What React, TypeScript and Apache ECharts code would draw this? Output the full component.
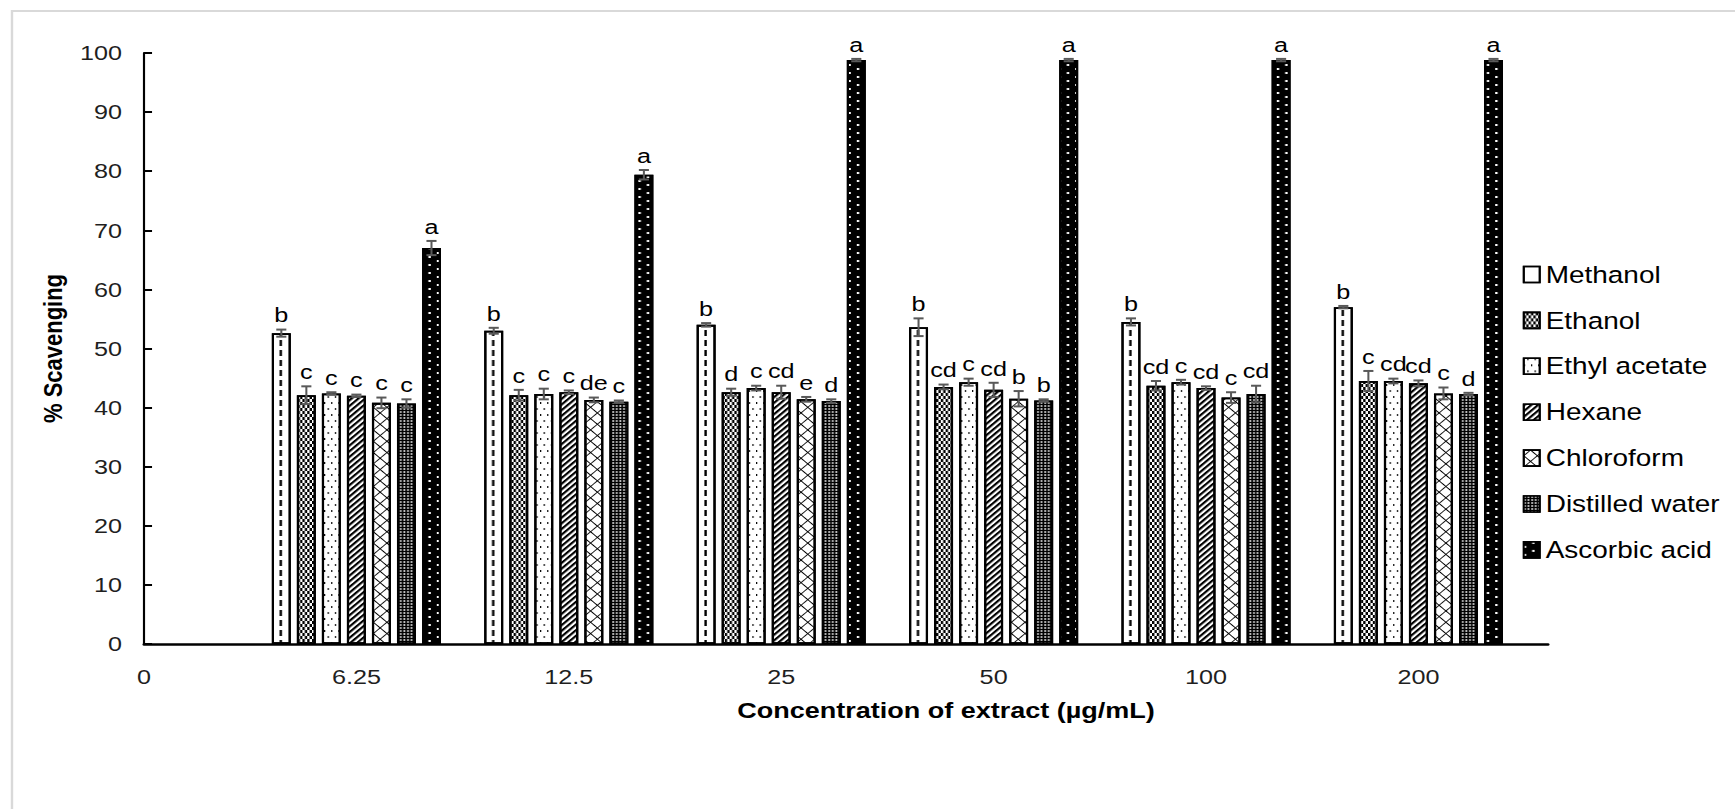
import React, { useEffect, useRef } from 'react';
import * as echarts from 'echarts';

const categories = ['0', '6.25', '12.5', '25', '50', '100', '200'];
const groupPositions = [1, 2, 3, 4, 5, 6];
const seriesNames = ['Methanol', 'Ethanol', 'Ethyl acetate', 'Hexane', 'Chloroform', 'Distilled water', 'Ascorbic acid'];

const methanol = [52.6, 53.0, 54.0, 53.6, 54.5, 57.0];
const ethanol = [42.1, 42.1, 42.6, 43.5, 43.7, 44.5];
const ethylAcetate = [42.4, 42.3, 43.3, 44.3, 44.3, 44.5];
const hexane = [42.0, 42.6, 42.6, 43.0, 43.3, 44.1];
const chloroform = [40.8, 41.3, 41.4, 41.5, 41.7, 42.4];
const distilledWater = [40.7, 41.0, 41.1, 41.2, 42.3, 42.3];
const ascorbicAcid = [67.0, 79.4, 98.8, 98.8, 98.8, 98.8];

const methanolErr = [0.6, 0.5, 0.3, 1.5, 0.6, 0.2];
const ethanolErr = [1.5, 0.9, 0.6, 0.4, 0.8, 1.7];
const ethylAcetateErr = [0.2, 0.9, 0.4, 0.6, 0.4, 0.4];
const hexaneErr = [0.2, 0.3, 1.1, 1.2, 0.3, 0.5];
const chloroformErr = [0.9, 0.4, 0.4, 1.3, 0.9, 1.0];
const distilledWaterErr = [0.7, 0.2, 0.3, 0.2, 1.4, 0.2];
const ascorbicAcidErr = [1.2, 0.8, 0.2, 0.2, 0.2, 0.2];

const methanolLetters = ['b', 'b', 'b', 'b', 'b', 'b'];
const ethanolLetters = ['c', 'c', 'd', 'cd', 'cd', 'c'];
const ethylAcetateLetters = ['c', 'c', 'c', 'c', 'c', 'cd'];
const hexaneLetters = ['c', 'c', 'cd', 'cd', 'cd', 'cd'];
const chloroformLetters = ['c', 'de', 'e', 'b', 'c', 'c'];
const distilledWaterLetters = ['c', 'c', 'd', 'b', 'cd', 'd'];
const ascorbicAcidLetters = ['a', 'a', 'a', 'a', 'a', 'a'];

const values = [methanol, ethanol, ethylAcetate, hexane, chloroform, distilledWater, ascorbicAcid];
const errors = [methanolErr, ethanolErr, ethylAcetateErr, hexaneErr, chloroformErr, distilledWaterErr, ascorbicAcidErr];
const letters = [methanolLetters, ethanolLetters, ethylAcetateLetters, hexaneLetters, chloroformLetters, distilledWaterLetters, ascorbicAcidLetters];

const FONT = '"Liberation Sans", Arial, sans-serif';
// the original picture is stretched horizontally; reproduce with a horizontal scale
const SX = 1.2;
const CHART_W = 1446;
const CHART_H = 809;
const BAR_W = 15.8;
const BAR_GAP = 0.32;
const PITCH = BAR_W * (1 + BAR_GAP);

const fills = ['#ffffff', '#ffffff', '#ffffff', '#ffffff', '#ffffff', '#000000', '#000000'];
const decals: any[] = [
  { symbol: 'rect', symbolSize: 1, symbolKeepAspect: false, color: '#000', dashArrayX: [0, 56, 2, 119], dashArrayY: [6, 4] },
  { symbol: 'rect', symbolSize: 1, symbolKeepAspect: false, color: '#000', dashArrayX: [[2, 2], [0, 2, 2, 0]], dashArrayY: [3, 0] },
  { symbol: 'rect', symbolSize: 1, symbolKeepAspect: false, color: '#000', dashArrayX: [[1, 5], [0, 3, 1, 2]], dashArrayY: [2, 4] },
  { symbol: 'rect', symbolSize: 1, symbolKeepAspect: false, color: '#000', dashArrayX: [1, 0], dashArrayY: [2, 2], rotation: -Math.PI / 4 },
  { symbol: 'path://M3.6,0H4.4V8H3.6Z M0,3.6H8V4.4H0Z', symbolSize: 1, symbolKeepAspect: false, color: '#000', dashArrayX: [8, 0], dashArrayY: [8, 0], rotation: Math.PI / 4 },
  { symbol: 'rect', symbolSize: 0.75, symbolKeepAspect: false, color: '#fff', dashArrayX: [2, 1], dashArrayY: [2, 1] },
  { symbol: 'rect', symbolSize: 1, symbolKeepAspect: false, color: '#fff', dashArrayX: [[2, 12], [0, 7, 2, 5]], dashArrayY: [2, 2] },
];

export default function App() {
  const ref = useRef<HTMLDivElement>(null);
  useEffect(() => {
    if (!ref.current) return;
    const chart = echarts.init(ref.current, undefined, { renderer: 'svg' });

    const barSeries = seriesNames.map((name, s) => ({
      name,
      type: 'bar',
      barWidth: BAR_W,
      barGap: `${BAR_GAP * 100}%`,
      data: groupPositions.map((x, g) => [x, values[s][g]]),
      itemStyle: { color: fills[s], borderColor: '#000', borderWidth: 1.8, decal: decals[s] },
      emphasis: { disabled: true },
      z: 2,
    }));

    const errData: number[][] = [];
    const errLetters: string[] = [];
    seriesNames.forEach((_, s) => {
      groupPositions.forEach((x, g) => {
        errData.push([x, s, values[s][g], errors[s][g]]);
        errLetters.push(letters[s][g]);
      });
    });

    const errorSeries = {
      name: 'errors',
      type: 'custom',
      z: 5,
      silent: true,
      encode: { x: 0, y: 2 },
      data: errData,
      renderItem: (params: any, api: any) => {
        const x = api.value(0);
        const s = api.value(1);
        const v = api.value(2);
        const e = api.value(3);
        const base = api.coord([x, v]);
        const top = api.coord([x, v + e]);
        const bot = api.coord([x, v - e]);
        const cx = base[0] + (s - 3) * PITCH;
        const cap = 4.2;
        const stroke = '#595959';
        return {
          type: 'group',
          children: [
            { type: 'line', shape: { x1: cx, y1: top[1], x2: cx, y2: bot[1] }, style: { stroke, lineWidth: 1.7 } },
            { type: 'line', shape: { x1: cx - cap, y1: top[1], x2: cx + cap, y2: top[1] }, style: { stroke, lineWidth: 2 } },
            { type: 'line', shape: { x1: cx - cap, y1: bot[1], x2: cx + cap, y2: bot[1] }, style: { stroke, lineWidth: 2 } },
            {
              type: 'text',
              x: cx,
              y: top[1] - 4,
              style: { text: errLetters[params.dataIndex], fill: '#000', font: `21px ${FONT}`, align: 'center', verticalAlign: 'bottom' },
            },
          ],
        };
      },
    };

    chart.setOption({
      animation: false,
      backgroundColor: '#ffffff',
      textStyle: { fontFamily: FONT },
      grid: { left: 120, right: 156, top: 53, bottom: 165, outerBoundsMode: 'none' },
      legend: {
        orient: 'vertical',
        left: 1269,
        top: 263,
        padding: 0,
        itemWidth: 13.3,
        itemHeight: 16,
        itemGap: 22.9,
        icon: 'rect',
        selectedMode: false,
        data: seriesNames,
        itemStyle: { borderWidth: 1.6 },
        textStyle: { fontSize: 23.3, color: '#000', fontFamily: FONT },
      },
      xAxis: {
        type: 'value',
        min: 0,
        max: 6.61,
        interval: 1,
        axisLine: { show: true, onZero: true, lineStyle: { color: '#000', width: 2.5 } },
        axisTick: { show: false },
        splitLine: { show: false },
        axisLabel: {
          formatter: (v: number) => (Number.isInteger(v) ? categories[v] ?? '' : ''),
          fontSize: 21,
          color: '#1f1f1f',
          margin: 22,
          fontFamily: FONT,
        },
      },
      yAxis: {
        type: 'value',
        min: 0,
        max: 100,
        interval: 10,
        axisLine: { show: true, lineStyle: { color: '#000', width: 1.8 } },
        axisTick: { show: true, inside: true, length: 6.7, lineStyle: { color: '#000', width: 2 } },
        splitLine: { show: false },
        axisLabel: { fontSize: 21, color: '#1f1f1f', margin: 18.3, fontFamily: FONT },
        name: '% Scavenging',
        nameLocation: 'middle',
        nameRotate: 90,
        nameGap: 65,
        nameTextStyle: { fontSize: 22, fontWeight: 'bold', color: '#000', fontFamily: FONT },
      },
      graphic: [
        {
          type: 'rect',
          shape: { x: 10, y: 11, width: 1600, height: 900 },
          style: { fill: 'none', stroke: '#d9d9d9', lineWidth: 2 },
          silent: true,
          z: -10,
        },
        {
          type: 'text',
          x: 788.3,
          y: 710,
          style: {
            text: 'Concentration of extract (µg/mL)',
            font: `bold 22.5px ${FONT}`,
            fill: '#000',
            align: 'center',
            verticalAlign: 'middle',
          },
        },
      ],
      series: [...barSeries, errorSeries],
    });

    return () => chart.dispose();
  }, []);

  return (
    <div style={{ position: 'fixed', left: 0, top: 0, width: 1735, height: CHART_H, overflow: 'hidden', background: '#fff' }}>
      <div
        ref={ref}
        style={{ width: CHART_W, height: CHART_H, transform: `scaleX(${SX})`, transformOrigin: '0 0' }}
      />
    </div>
  );
}
